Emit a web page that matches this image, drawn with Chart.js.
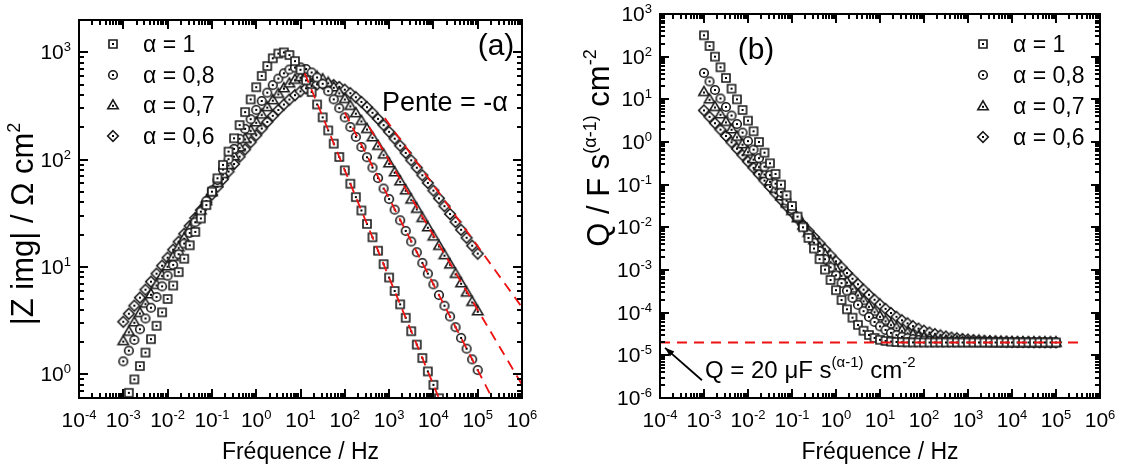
<!DOCTYPE html>
<html>
<head>
<meta charset="utf-8">
<script src="https://cdn.jsdelivr.net/npm/chart.js@4.4.1/dist/chart.umd.min.js"></script>
<style>
  html, body { margin: 0; padding: 0; background: #fff; }
  #wrap { position: relative; width: 1123px; height: 469px; overflow: hidden; }
  canvas { position: absolute; top: 0; }
  #chartA { left: 0; }
  #chartB { left: 560px; }
</style>
</head>
<body>
<div id="wrap">
  <canvas id="chartA" width="560" height="469"></canvas>
  <canvas id="chartB" width="563" height="469"></canvas>
</div>
<script>
// --- Data (8 points per decade) ---
const freq = [
  0.001, 0.001334, 0.001778, 0.002371, 0.003162, 0.004217, 0.005623, 0.007499,
  0.01, 0.01334, 0.01778, 0.02371, 0.03162, 0.04217, 0.05623, 0.07499,
  0.1, 0.1334, 0.1778, 0.2371, 0.3162, 0.4217, 0.5623, 0.7499,
  1, 1.334, 1.778, 2.371, 3.162, 4.217, 5.623, 7.499,
  10, 13.34, 17.78, 23.71, 31.62, 42.17, 56.23, 74.99,
  100, 133.4, 177.8, 237.1, 316.2, 421.7, 562.3, 749.9,
  1000, 1334, 1778, 2371, 3162, 4217, 5623, 7499,
  10000, 13340, 17780, 23710, 31620, 42170, 56230, 74990,
  100000
];

const alphaLabels = ["α = 1", "α = 0,8", "α = 0,7", "α = 0,6"];

// |Z img| / ohm cm2
const zImg1 = [
  0.503, 0.670, 0.894, 1.192, 1.590, 2.120, 2.827, 3.769,
  5.027, 6.703, 8.939, 11.92, 15.90, 21.20, 28.27, 37.68,
  50.23, 66.95, 89.21, 118.8, 158.0, 209.6, 277.1, 364.0,
  472.8, 602.7, 745.0, 879.6, 974.2, 998.3, 943.0, 828.1,
  687.0, 548.0, 426.2, 326.4, 247.7, 187.0, 140.8, 105.8,
  79.45, 59.62, 44.73, 33.55, 25.16, 18.87, 14.15, 10.61,
  7.958, 5.968, 4.475, 3.356, 2.516, 1.887, 1.415, 1.061,
  0.7958, 0.5968, 0.4475, 0.3356, 0.2516, 0.1887, 0.1415, 0.1061,
  0.0796
];
const zImg08 = [
  1.317, 1.658, 2.087, 2.627, 3.307, 4.162, 5.237, 6.590, 8.292, 10.43,
  13.12, 16.50, 20.74, 26.07, 32.74, 41.10, 51.54, 64.58, 80.81, 100.9,
  125.8, 156.3, 193.4, 238.1, 290.9, 352.1, 420.9, 494.7, 569.0, 637.1,
  690.6, 721.4, 724.1, 698.4, 648.5, 582.5, 508.8, 434.5, 364.5, 301.8,
  247.3, 201.2, 162.7, 131.1, 105.2, 84.27, 67.37, 53.78, 42.89, 34.17,
  27.21, 21.65, 17.23, 13.70, 10.89, 8.658, 6.881, 5.468, 4.345, 3.453,
  2.743, 2.179, 1.731, 1.375, 1.093
];
const zImg07 = [
  2.048, 2.504, 3.062, 3.744, 4.578, 5.597, 6.842, 8.363,
  10.22, 12.49, 15.25, 18.62, 22.73, 27.73, 33.81, 41.19,
  50.13, 60.95, 73.99, 89.67, 108.4, 130.8, 157.2, 188.1,
  223.9, 264.8, 310.5, 360.3, 412.8, 465.7, 515.8, 559.2,
  591.7, 609.8, 611.4, 596.2, 566.0, 524.3, 475.2, 422.5,
  369.7, 319.2, 272.7, 231.0, 194.3, 162.5, 135.3, 112.2,
  92.85, 76.64, 63.14, 51.95, 42.69, 35.04, 28.75, 23.57,
  19.31, 15.82, 12.95, 10.60, 8.673, 7.096, 5.805, 4.749,
  3.884
];
const zImg06 = [
  3.083, 3.663, 4.351, 5.168, 6.138, 7.289, 8.654, 10.27,
  12.19, 14.47, 17.16, 20.34, 24.11, 28.56, 33.80, 39.98,
  47.25, 55.77, 65.75, 77.39, 90.92, 106.6, 124.6, 145.2,
  168.6, 194.9, 224.1, 256.0, 290.2, 326.2, 362.8, 398.8,
  432.6, 462.3, 486.0, 502.1, 509.2, 506.9, 495.2, 475.2,
  448.3, 416.4, 381.3, 344.7, 308.3, 273.1, 239.9, 209.4,
  181.6, 156.8, 134.8, 115.4, 98.59, 84.01, 71.44, 60.64,
  51.41, 43.52, 36.81, 31.11, 26.27, 22.18, 18.71, 15.78,
  13.30
];

// Q / F s^(a-1) cm-2
const qVal1 = [
  316.6, 178.1, 100.1, 56.30, 31.66, 17.80, 10.01, 5.630,
  3.166, 1.781, 1.001, 0.5630, 0.3166, 0.1780, 0.1001, 0.05630,
  0.03168, 0.01783, 0.01003, 0.005650, 0.003186, 0.001800, 0.001021, 0.000583,
  3.366e-4, 1.980e-4, 1.201e-4, 7.630e-5, 5.166e-5, 3.780e-5, 3.001e-5, 2.563e-5,
  2.317e-5, 2.178e-5, 2.100e-5, 2.056e-5, 2.032e-5, 2.018e-5, 2.010e-5, 2.006e-5,
  2.003e-5, 2.002e-5, 2.001e-5, 2.001e-5, 2.0e-5, 2.0e-5, 2.0e-5, 2.0e-5,
  2.0e-5, 2.0e-5, 2.0e-5, 2.0e-5, 2.0e-5, 2.0e-5, 2.0e-5, 2.0e-5,
  2.0e-5, 2.0e-5, 2.0e-5, 2.0e-5, 2.0e-5, 2.0e-5, 2.0e-5, 2.0e-5,
  2.0e-5
];
const qVal08 = [
  41.69, 26.30, 16.60, 10.48, 6.612, 4.173, 2.634, 1.662, 1.050, 0.6627,
  0.4185, 0.2643, 0.1670, 0.1056, 0.06677, 0.04225, 0.02676, 0.01696, 0.01077, 0.006849,
  0.004365, 0.002791, 0.001792, 0.001156, 7.515e-4, 4.931e-4, 3.277e-4, 2.215e-4, 1.529e-4, 1.085e-4,
  7.951e-5, 6.046e-5, 4.785e-5, 3.941e-5, 3.371e-5, 2.981e-5, 2.711e-5, 2.522e-5, 2.387e-5, 2.291e-5,
  2.220e-5, 2.168e-5, 2.129e-5, 2.100e-5, 2.078e-5, 2.061e-5, 2.047e-5, 2.037e-5, 2.029e-5, 2.023e-5,
  2.018e-5, 2.014e-5, 2.011e-5, 2.009e-5, 2.007e-5, 2.006e-5, 2.005e-5, 2.004e-5, 2.003e-5, 2.002e-5,
  2.002e-5, 2.001e-5, 2.001e-5, 2.001e-5, 2.001e-5
];
const qVal07 = [
  15.13, 10.12, 6.763, 4.522, 3.023, 2.022, 1.352, 0.9043,
  0.6049, 0.4048, 0.2710, 0.1814, 0.1215, 0.08142, 0.05460, 0.03664,
  0.02461, 0.01655, 0.01114, 0.007516, 0.005081, 0.003444, 0.002343, 0.001601,
  1.099e-3, 7.600e-4, 5.298e-4, 3.733e-4, 2.663e-4, 1.930e-4, 1.425e-4, 1.074e-4,
  8.300e-5, 6.584e-5, 5.368e-5, 4.501e-5, 3.875e-5, 3.420e-5, 3.085e-5, 2.837e-5,
  2.650e-5, 2.509e-5, 2.401e-5, 2.318e-5, 2.253e-5, 2.202e-5, 2.163e-5, 2.131e-5,
  2.106e-5, 2.085e-5, 2.069e-5, 2.056e-5, 2.046e-5, 2.037e-5, 2.030e-5, 2.025e-5,
  2.020e-5, 2.016e-5, 2.013e-5, 2.011e-5, 2.009e-5, 2.007e-5, 2.006e-5, 2.005e-5,
  2.004e-5
];
const qVal06 = [
  5.496, 3.893, 2.757, 1.953, 1.384, 0.9804, 0.6947, 0.4924,
  0.3491, 0.2476, 0.1756, 0.1246, 0.08848, 0.06285, 0.04468, 0.03178,
  0.02263, 0.01613, 0.01151, 0.008229, 0.005893, 0.004230, 0.003044, 0.002198,
  1.593e-3, 1.159e-3, 8.485e-4, 6.250e-4, 4.638e-4, 3.472e-4, 2.626e-4, 2.010e-4,
  1.559e-4, 1.228e-4, 9.826e-5, 8.003e-5, 6.640e-5, 5.612e-5, 4.833e-5, 4.238e-5,
  3.780e-5, 3.424e-5, 3.146e-5, 2.928e-5, 2.755e-5, 2.617e-5, 2.506e-5, 2.416e-5,
  2.344e-5, 2.285e-5, 2.236e-5, 2.197e-5, 2.164e-5, 2.137e-5, 2.114e-5, 2.096e-5,
  2.080e-5, 2.067e-5, 2.056e-5, 2.047e-5, 2.039e-5, 2.033e-5, 2.028e-5, 2.023e-5,
  2.020e-5
];

// red dashed "Pente = -a" lines: [start, end] in (Hz, ohm cm2)
const slopeFreq = [[12.5, 1e6], [100, 1e6], [355, 1e6], [800, 1e6]];
const slopeZ = [[636.6, 0.00796], [274.6, 0.1732], [201.9, 0.80], [243.4, 4.2]];

// horizontal Q = 20 uF line and arrow (Hz, F s^(a-1) cm-2)
const qLineFreq = [1e-4, 3.5e5];
const qLineVal = [2e-5, 2e-5];
const arrowFreq = [9.0e-4, 1.3e-4];
const arrowVal = [2.6e-6, 1.5e-5];

// axis tick positions (decade exponents, minor multipliers)
const xDecades = [-4, -3, -2, -1, 0, 1, 2, 3, 4, 5, 6];
const minorSteps = [2, 3, 4, 5, 6, 7, 8, 9];

const FONT = '"Liberation Sans", Arial, Helvetica, sans-serif';

// --- Marker images (open symbol with centre dot) ---
function makeMarker(shape) {
  const c = document.createElement("canvas");
  c.width = 14; c.height = 14;
  const g = c.getContext("2d");
  const m = 7;
  g.lineWidth = 1.6;
  g.strokeStyle = "#1a1a1a";
  g.fillStyle = "#fff";
  g.beginPath();
  if (shape === "square") g.rect(m - 4, m - 4, 8, 8);
  else if (shape === "circle") g.arc(m, m, 4.3, 0, Math.PI * 2);
  else if (shape === "triangle") { g.moveTo(m, m - 5.2); g.lineTo(m + 5.2, m + 3.8); g.lineTo(m - 5.2, m + 3.8); g.closePath(); }
  else { g.moveTo(m, m - 5.3); g.lineTo(m + 5.3, m); g.lineTo(m, m + 5.3); g.lineTo(m - 5.3, m); g.closePath(); }
  g.fill();
  g.stroke();
  g.fillStyle = "#000";
  g.fillRect(m - 1, (shape === "triangle" ? m + 0.8 : m) - 1, 2, 2);
  return c;
}
const markers = ["square", "circle", "triangle", "diamond"].map(makeMarker);

// --- Helpers ---
function toPoints(xs, ys) {
  return xs.map((x, i) => ({ x, y: ys[i] }));
}

function richText(ctx, segs, x, y, align) {
  let w = 0;
  segs.forEach(s => {
    ctx.font = s.size + "px " + FONT;
    s.w = ctx.measureText(s.t).width;
    w += s.w;
  });
  let cx = align === "center" ? x - w / 2 : align === "right" ? x - w : x;
  ctx.textAlign = "left";
  ctx.textBaseline = "alphabetic";
  segs.forEach(s => {
    ctx.font = s.size + "px " + FONT;
    ctx.fillText(s.t, cx, y + (s.dy || 0));
    cx += s.w;
  });
  return w;
}

function powLabel(e) {
  return [{ t: "10", size: 21 }, { t: String(e), size: 13, dy: -8 }];
}

// list of [value, isMajor] between min and max of a log scale
function logTicks(scale) {
  const out = [];
  const lo = Math.floor(Math.log10(scale.min)), hi = Math.ceil(Math.log10(scale.max));
  for (let e = lo; e <= hi; e++) {
    const base = Math.pow(10, e);
    out.push([base, true]);
    minorSteps.forEach(k => out.push([k * base, false]));
  }
  return out.filter(t => t[0] >= scale.min * 0.999 && t[0] <= scale.max * 1.001);
}

// frame, inward ticks on all sides, tick labels
function drawAxes(chart, yExps) {
  const ctx = chart.ctx, a = chart.chartArea;
  const xs = chart.scales.x, ys = chart.scales.y;
  const L = Math.round(a.left), R = Math.round(a.right);
  const T = Math.round(a.top), B = Math.round(a.bottom);
  ctx.save();
  ctx.fillStyle = "#000";
  logTicks(xs).forEach(([v, major]) => {
    const px = Math.round(xs.getPixelForValue(v));
    const len = major ? 9 : 5;
    ctx.fillRect(px - 1, B - len, 2, len);
    ctx.fillRect(px - 1, T, 2, len);
  });
  logTicks(ys).forEach(([v, major]) => {
    const py = Math.round(ys.getPixelForValue(v));
    const len = major ? 9 : 5;
    ctx.fillRect(L, py - 1, len, 2);
    ctx.fillRect(R - len, py - 1, len, 2);
  });
  // frame
  ctx.fillRect(L - 1, T - 1, R - L + 2, 2);
  ctx.fillRect(L - 1, B - 1, R - L + 2, 2);
  ctx.fillRect(L - 1, T - 1, 2, B - T + 2);
  ctx.fillRect(R - 1, T - 1, 2, B - T + 2);

  xDecades.forEach(e => {
    richText(ctx, powLabel(e), xs.getPixelForValue(Math.pow(10, e)), B + 29, "center");
  });
  yExps.forEach(e => {
    richText(ctx, powLabel(e), L - 8, ys.getPixelForValue(Math.pow(10, e)) + 7, "right");
  });
  ctx.font = "23px " + FONT;
  ctx.textAlign = "center";
  ctx.fillText("Fréquence / Hz", (L + R) / 2, 459);
  ctx.restore();
}

function drawLegend(ctx, x, ys, textX) {
  ctx.save();
  ctx.fillStyle = "#000";
  ctx.font = "23px " + FONT;
  ctx.textAlign = "left";
  ctx.textBaseline = "alphabetic";
  alphaLabels.forEach((lab, i) => {
    const img = markers[i];
    ctx.drawImage(img, Math.round(x - img.width / 2), Math.round(ys[i] - img.height / 2));
    ctx.fillText(lab, textX, ys[i] + 8);
  });
  ctx.restore();
}

function scatterSet(xs, ys, i) {
  return {
    label: alphaLabels[i],
    data: toPoints(xs, ys),
    showLine: false,
    pointStyle: markers[i],
    pointRadius: 5,
    clip: 0
  };
}

function dashSet(xs, ys) {
  return {
    data: toPoints(xs, ys),
    borderColor: "#ee1111",
    borderWidth: 1.8,
    borderDash: [10, 7],
    pointRadius: 0,
    showLine: true,
    order: -1,
    clip: 0
  };
}

function baseOptions(yMin, yMax, pad) {
  return {
    responsive: false,
    animation: false,
    devicePixelRatio: 1,
    layout: { padding: pad },
    plugins: { legend: { display: false }, tooltip: { enabled: false } },
    scales: {
      x: {
        type: "logarithmic", min: 1e-4, max: 1e6,
        ticks: { display: false }, grid: { display: false }, border: { display: false },
        afterFit: s => { s.height = 0; }
      },
      y: {
        type: "logarithmic", min: yMin, max: yMax,
        ticks: { display: false }, grid: { display: false }, border: { display: false },
        afterFit: s => { s.width = 0; }
      }
    }
  };
}

// --- Chart (a) ---
const zSeries = [zImg1, zImg08, zImg07, zImg06];
const dsA = zSeries.map((z, i) => scatterSet(freq, z, i));
slopeFreq.forEach((f, i) => dsA.push(dashSet(f, slopeZ[i])));

new Chart(document.getElementById("chartA"), {
  type: "line",
  data: { datasets: dsA },
  options: baseOptions(0.61, 2000, { left: 79, right: 38, top: 20, bottom: 71 }),
  plugins: [{
    id: "decorA",
    afterDraw(chart) {
      const ctx = chart.ctx;
      drawAxes(chart, [0, 1, 2, 3]);
      drawLegend(ctx, 113, [44, 74.5, 105, 135.5], 143);
      ctx.save();
      ctx.fillStyle = "#000";
      ctx.textAlign = "left";
      ctx.font = "27px " + FONT;
      ctx.fillText("Pente = -α", 382, 111);
      ctx.font = "30px " + FONT;
      ctx.textAlign = "center";
      ctx.fillText("(a)", 496, 55);
      // y title
      ctx.translate(33, 224);
      ctx.rotate(-Math.PI / 2);
      richText(ctx, [{ t: "|Z img| / Ω cm", size: 31 }, { t: "2", size: 18, dy: -13 }], 0, 0, "center");
      ctx.restore();
    }
  }]
});

// --- Chart (b) ---
const qSeries = [qVal1, qVal08, qVal07, qVal06];
const dsB = qSeries.map((q, i) => scatterSet(freq, q, i));
dsB.push(dashSet(qLineFreq, qLineVal));

new Chart(document.getElementById("chartB"), {
  type: "line",
  data: { datasets: dsB },
  options: baseOptions(1e-6, 1e3, { left: 100, right: 23, top: 14, bottom: 71 }),
  plugins: [{
    id: "decorB",
    afterDraw(chart) {
      const ctx = chart.ctx;
      const xs = chart.scales.x, ys = chart.scales.y;
      drawAxes(chart, [-6, -5, -4, -3, -2, -1, 0, 1, 2, 3]);
      drawLegend(ctx, 423, [44, 75, 106, 137], 453);
      ctx.save();
      ctx.fillStyle = "#000";
      ctx.strokeStyle = "#000";
      ctx.font = "30px " + FONT;
      ctx.textAlign = "center";
      ctx.fillText("(b)", 196, 59);
      // annotation
      richText(ctx, [
        { t: "Q = 20 μF s", size: 24 },
        { t: "(α-1)", size: 15, dy: -11 },
        { t: " cm", size: 24 },
        { t: "-2", size: 15, dy: -11 }
      ], 145, 378, "left");
      // arrow
      const x1 = xs.getPixelForValue(arrowFreq[0]), y1 = ys.getPixelForValue(arrowVal[0]);
      const x2 = xs.getPixelForValue(arrowFreq[1]), y2 = ys.getPixelForValue(arrowVal[1]);
      ctx.lineWidth = 1.8;
      ctx.beginPath();
      ctx.moveTo(x1, y1);
      ctx.lineTo(x2, y2);
      ctx.stroke();
      const ang = Math.atan2(y2 - y1, x2 - x1);
      ctx.beginPath();
      ctx.moveTo(x2, y2);
      ctx.lineTo(x2 - 10 * Math.cos(ang - 0.35), y2 - 10 * Math.sin(ang - 0.35));
      ctx.lineTo(x2 - 10 * Math.cos(ang + 0.35), y2 - 10 * Math.sin(ang + 0.35));
      ctx.closePath();
      ctx.fill();
      // y title
      ctx.translate(49, 148);
      ctx.rotate(-Math.PI / 2);
      richText(ctx, [
        { t: "Q / F s", size: 31 },
        { t: "(α-1)", size: 18, dy: -13 },
        { t: " cm", size: 31 },
        { t: "-2", size: 18, dy: -13 }
      ], 0, 0, "center");
      ctx.restore();
    }
  }]
});
</script>
</body>
</html>
